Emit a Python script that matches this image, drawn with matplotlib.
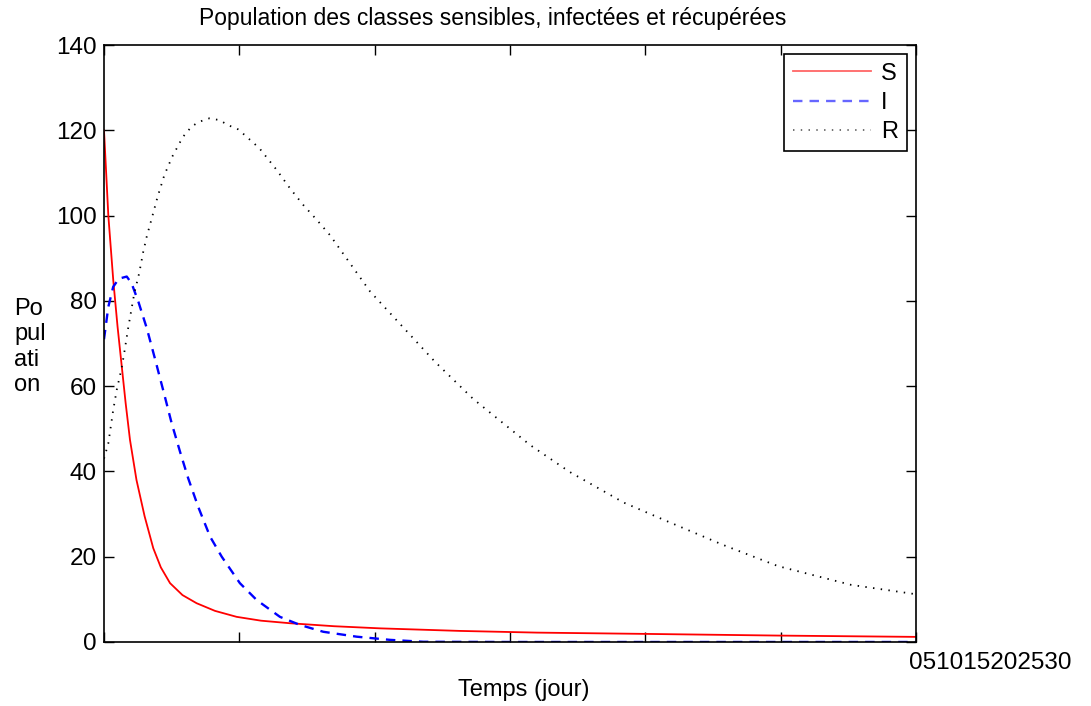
import matplotlib
matplotlib.use("Agg")
import matplotlib.pyplot as plt

plt.rcParams['font.family'] = ['Liberation Sans', 'DejaVu Sans']

# Data
t_S = [0, 0.16, 0.34, 0.5, 0.65, 0.8, 0.96, 1.2, 1.5, 1.82, 2.1, 2.44, 2.9, 3.42, 4.1, 4.9,
       5.8, 6.87, 8.5, 10.2, 13.15, 16, 20, 25, 30]
S = [120, 100, 85, 74, 65, 56, 47.4, 38, 29.5, 22, 17.5, 13.8, 11, 9.1, 7.3, 5.9,
     5.0, 4.4, 3.7, 3.2, 2.6, 2.2, 1.9, 1.5, 1.2]

t_I = [0, 0.16, 0.34, 0.55, 0.84, 1.02, 1.27, 1.58, 1.88, 2.25, 2.5, 2.81, 3.11, 3.48, 3.92,
       4.35, 5.02, 5.64, 6.5, 7.24, 8.1, 9.33, 10.57, 11.8, 15, 20, 25, 30]
I = [71, 78.6, 83.3, 85.2, 85.7, 84.1, 79.8, 73.6, 66.5, 57.5, 51.3, 44.6, 38.4, 31.7, 24.7,
     20, 13.8, 9.85, 5.9, 4.0, 2.4, 1.25, 0.5, 0.05, 0, 0, 0, 0]

t_R = [0, 0.16, 0.34, 0.47, 0.65, 0.74, 0.9, 1.12, 1.3, 1.45, 1.58, 1.78, 1.98, 2.23, 2.52,
       2.91, 3.24, 3.52, 3.89, 4.26, 4.59, 4.96, 5.23, 5.74, 6.38, 6.87, 7.36, 7.86, 8.35,
       9.83, 12.23, 13.64, 15.74, 17.2, 19.2, 20.7, 22.9, 24.9, 27.6, 30]
R = [43, 46.6, 54.4, 59.1, 64.2, 67.5, 73.9, 81.8, 86.5, 91.5, 95.1, 99.7, 104.4, 109.5, 113.8,
     118.4, 120.9, 122, 122.8, 122.4, 121.2, 120.2, 118.7, 115.8, 110.7, 106.4, 102.5, 99, 95.4,
     82.2, 65.7, 57, 46.2, 39.9, 32.7, 28.6, 22.7, 17.8, 13.4, 11.2]

labels = ['S', 'I', 'R']
x_ticks = [0, 5, 10, 15, 20, 25, 30]
y_ticks = [0, 20, 40, 60, 80, 100, 120, 140]
x_tick_text = ''.join(str(v) for v in x_ticks)

fig = plt.figure(figsize=(10.91, 7.06), dpi=100)
ax = fig.add_axes([104/1091, 1-642/706, 812/1091, 597/706])

ax.plot(t_S, S, color='red', lw=1.3, label=labels[0])
ax.plot(t_I, I, color='blue', lw=1.7, linestyle=(0, (4, 3)), label=labels[1])
ax.plot(t_R, R, color='black', lw=1.3, linestyle=(0, (0.8, 3.5)), label=labels[2])

ax.set_xlim(0, 30)
ax.set_ylim(0, 140)
ax.set_xticks(x_ticks)
ax.set_xticklabels([])
ax.set_yticks(y_ticks)
ax.tick_params(direction='in', length=7, width=1, top=True, right=True, labelsize=17.5, pad=5)
for s in ax.spines.values():
    s.set_linewidth(1.2)

ax.text(1.092, -0.035, x_tick_text, transform=ax.transAxes, ha='center', va='center', fontsize=17.5)

leg = ax.legend(loc='upper right', fontsize=17, frameon=True, fancybox=False, edgecolor='black',
                framealpha=1, handlelength=3.3, handletextpad=0.45, labelspacing=0.3,
                borderaxespad=0.4, borderpad=0.35)
leg.get_frame().set_linewidth(1.2)
for h in leg.get_lines():
    h.set_alpha(0.6)

fig.text(493/1091, 1-18/706, 'Population des classes sensibles, infectées et récupérées',
         ha='center', va='center', fontsize=16.5)
fig.text(524/1091, 1-690/706, 'Temps (jour)', ha='center', va='center', fontsize=17)
fig.text(14/1091, 1-347/706, 'Po\npul\nati\non', ha='left', va='center', fontsize=17, linespacing=1.2)

fig.savefig('out.png', dpi=100)
